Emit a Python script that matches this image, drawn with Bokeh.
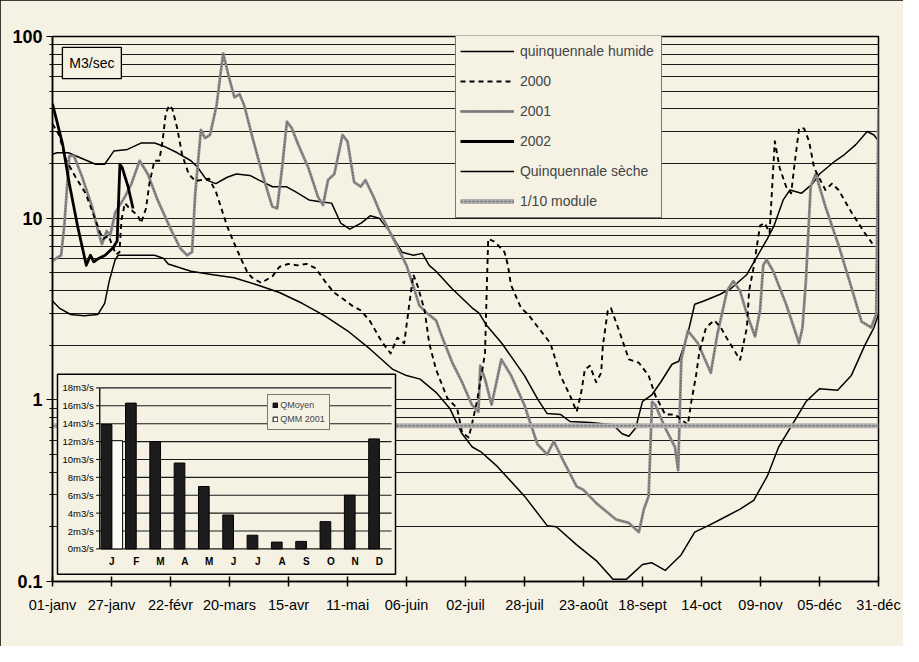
from bokeh.plotting import figure
from bokeh.models import (Range1d, LinearScale, FixedTicker, CustomJSTickFormatter,
                          Legend, LegendItem, ColumnDataSource)
from bokeh.embed import file_html
from bokeh.resources import INLINE
from bokeh.core.properties import value

# ---------------- data ----------------
TICK_DAYS = [0, 26, 52, 78, 104, 130, 156, 182, 208, 234, 260, 286, 312, 338, 364]
TICK_LABELS = ["01-janv", "27-janv", "22-févr", "20-mars", "15-avr", "11-mai", "06-juin",
               "02-juil", "28-juil", "23-août", "18-sept", "14-oct", "09-nov", "05-déc", "31-déc"]

HUMIDE = [(0, 22.5), (2, 22.9), (7, 22.9), (19, 19.8), (23, 19.8), (27, 23.4), (33, 23.9),
          (39, 25.9), (45, 25.9), (49, 24.9), (55, 22.9), (61, 20.7), (64, 19.0), (68, 16.2),
          (72, 15.5), (77, 16.8), (81, 17.5), (87, 17.2), (91, 16.2), (97, 14.9), (103, 14.9),
          (107, 14.0), (113, 12.6), (118, 12.3), (123, 12.1), (127, 9.4), (131, 8.7), (136, 9.4),
          (140, 10.3), (144, 10.0), (149, 8.3), (154, 6.5), (159, 6.25), (163, 6.4), (166, 5.5),
          (169, 5.1), (176, 4.1), (185, 3.2), (188, 3.0), (191, 2.6), (198, 2.05), (208, 1.36),
          (214, 1.0), (218, 0.84), (224, 0.83), (228, 0.76), (237, 0.75), (247, 0.73), (251, 0.65),
          (254, 0.63), (257, 0.70), (260, 0.98), (264, 1.06), (268, 1.25), (273, 1.57), (276, 1.63),
          (280, 2.32), (283, 3.36), (287, 3.5), (294, 3.8), (299, 4.1), (306, 4.9), (310, 6.0),
          (315, 7.7), (318, 9.1), (322, 12.6), (325, 14.3), (330, 13.7), (335, 15.5), (338, 17.5),
          (345, 20.7), (349, 22.4), (354, 25.4), (359, 30.0), (362, 28.7), (364, 26.6)]

SECHE = [(0, 3.5), (3, 3.2), (8, 2.95), (14, 2.9), (20, 2.95), (23, 3.4), (25, 4.5), (27.6, 5.9),
         (29, 6.25), (39, 6.25), (45, 6.25), (49, 6.0), (51, 5.6), (61, 5.1), (70, 4.9), (80, 4.7),
         (90, 4.3), (100, 3.9), (110, 3.4), (120, 2.9), (130, 2.4), (140, 1.9), (150, 1.47),
         (156, 1.36), (162, 1.30), (169, 1.10), (175, 0.90), (180.5, 0.65), (185, 0.55),
         (189, 0.515), (196, 0.43), (208, 0.295), (218, 0.203), (222, 0.20), (231, 0.159),
         (240, 0.129), (247, 0.103), (253, 0.103), (260, 0.124), (264, 0.127), (270, 0.115),
         (277, 0.14), (283, 0.187), (289, 0.203), (294.5, 0.22), (303, 0.25), (309, 0.28),
         (315, 0.38), (320, 0.55), (326, 0.73), (332, 0.975), (338, 1.15), (346, 1.13),
         (352, 1.36), (358, 2.0), (362, 2.5), (364, 2.97)]

Y2000 = [(0, 33), (2.9, 28.7), (5.9, 21), (10.2, 16.8), (14.6, 13.7), (18.9, 9.8), (21, 8.3),
         (22.5, 7.7), (24.7, 8.0), (26.5, 7.0), (28, 6.3), (29.5, 6.5), (30.4, 9.8), (31.9, 12.1),
         (34, 11.3), (37.7, 10.3), (39, 9.4), (41.2, 11.3), (42.7, 15.5), (44.9, 20.7), (47, 20.7),
         (48.5, 26.5), (49.9, 37.6), (51.4, 41.8), (52.8, 40), (55, 31.2), (57.1, 22.4), (60, 17.5),
         (63, 16), (69, 16.5), (72, 14), (77, 9), (80, 7.3), (83, 6), (86, 5), (88, 4.7), (92, 4.4),
         (97, 4.8), (100, 5.4), (104, 5.6), (108, 5.5), (112, 5.6), (116, 5.3), (120, 4.5),
         (124, 3.9), (128, 3.6), (132, 3.3), (136, 3.1), (140, 2.7), (145, 2.1), (149, 1.8),
         (152, 2.2), (155, 2.05), (157, 3.2), (159, 4.9), (161, 4.2), (164, 3.1), (166, 2.05),
         (169, 1.47), (174, 1.02), (178.3, 0.90), (180.5, 0.66), (183.4, 0.62), (184.8, 0.73),
         (187, 0.975), (189, 1.36), (190.6, 1.81), (191.3, 3.8), (192, 7.7), (195, 7.4),
         (199.2, 6.5), (200.7, 5.5), (202, 4.3), (206.5, 3.2), (209.4, 2.97), (219.4, 2.05),
         (223.8, 1.36), (228, 1.06), (231, 0.86), (233, 1.10), (234.6, 1.47), (236.8, 1.54),
         (239.6, 1.25), (241.8, 1.41), (242.5, 1.97), (244.7, 3.1), (246.1, 3.2), (249.7, 2.4),
         (254, 1.67), (258.4, 1.6), (262.7, 1.36), (265.6, 1.06), (270, 0.83), (274.3, 0.83),
         (280, 0.73), (281.5, 0.975), (283.6, 1.36), (285.1, 1.85), (288, 2.5), (291.6, 2.74),
         (294.5, 2.5), (297, 2.2), (303, 1.66), (306, 2.5), (307, 4.0), (308.9, 5.3), (311.8, 9.1),
         (313.9, 9.4), (316, 8.3), (318.3, 26.5), (320.4, 19), (323.3, 14.9), (325.5, 13.7),
         (327, 19.8), (329, 31.2), (331.2, 31.2), (333.4, 26.5), (335.6, 19), (337.7, 16.8),
         (340.6, 14.3), (343.5, 15.5), (346.4, 14.3), (352.2, 10.7), (357.9, 8.3), (360.8, 7.4),
         (362, 7.0)]

Y2001 = [(0, 5.8), (1.6, 6.0), (3.8, 6.25), (5.2, 9.1), (7.4, 22.0), (9.5, 22.0), (13.1, 16.8),
         (17.4, 11.6), (20.3, 8.3), (21.8, 7.2), (23.9, 8.5), (25.4, 8.0), (27.6, 10.7),
         (31.9, 13.1), (34.8, 15.5), (38.4, 20.7), (42, 17.5), (46.3, 12.6), (52.1, 8.7),
         (56.4, 6.8), (59.3, 6.25), (61.5, 6.5), (62.9, 13.7), (65.4, 30.6), (67.2, 27.6),
         (69.4, 28.7), (72.3, 41.7), (75.2, 80.7), (78, 58), (80.2, 46.2), (82.4, 48.2),
         (84.5, 41.7), (88.2, 27.6), (92.5, 17.5), (96.8, 11.6), (99, 11.3), (101.2, 19),
         (103.3, 34), (105.5, 31.2), (108.3, 25.4), (112.7, 19), (117, 13.1), (119.2, 11.8),
         (121.4, 16.2), (124.2, 17.5), (127.8, 28.7), (130, 26.5), (132.9, 15.8), (135.8, 14.9),
         (137.9, 16.2), (141.5, 13.1), (144.4, 10.7), (150.2, 7.7), (156, 5.5), (158.8, 4.3),
         (161.7, 3.3), (164.6, 3.03), (169, 2.74), (171.8, 2.2), (176.2, 1.6), (180.5, 1.25),
         (184.8, 0.94), (187.7, 0.86), (188.5, 1.54), (190.6, 1.30), (193.5, 0.94), (197.8, 1.67),
         (202.1, 1.36), (207.9, 0.94), (213.7, 0.57), (218, 0.50), (220.9, 0.59), (225.2, 0.46),
         (231, 0.333), (233.9, 0.32), (239.6, 0.27), (248.2, 0.22), (254, 0.21), (258.4, 0.187),
         (260.6, 0.25), (262.7, 0.295), (264.2, 0.975), (265.6, 0.94), (270, 0.70), (274.3, 0.55),
         (275.7, 0.41), (276.4, 0.83), (277.1, 1.67), (280, 2.4), (284.4, 2.05), (290.1, 1.41),
         (293, 2.3), (297.3, 4.0), (300, 4.5), (303, 3.97), (306, 2.97), (309.6, 2.23),
         (311.8, 3.1), (313.2, 5.5), (314.7, 5.9), (317.6, 5.1), (323.3, 3.36), (329, 2.05),
         (330.5, 2.5), (332, 4.5), (334.1, 14.9), (336.3, 17.5), (340.6, 11.6), (346.4, 7.1),
         (352.2, 4.1), (356.5, 2.7), (360.8, 2.5), (363, 2.97), (364, 41.7)]

Y2002 = [(0, 42.6), (4.5, 25.4), (7.4, 15.5), (11, 9.1), (13.9, 6.25), (14.9, 5.5), (16.7, 6.25),
         (18.2, 5.75), (20.3, 6.0), (23.2, 6.25), (26.8, 6.9), (28.5, 7.5), (29.7, 19.8),
         (30.7, 19), (33.3, 14.9), (35.5, 11.3)]

MODULE_10 = 0.72

MONTHS = ["J", "F", "M", "A", "M", "J", "J", "A", "S", "O", "N", "D"]
QMOYEN = [13.9, 16.3, 12.0, 9.6, 6.98, 3.8, 1.53, 0.76, 0.84, 3.05, 6.0, 12.3]
QMM_2001 = [12.1, None, None, None, None, None, None, None, None, None, None, None]
INSET_TICKS = [0, 2, 4, 6, 8, 10, 12, 14, 16, 18]

# ---------------- layout (reference pixels scaled into 903x646) ----------------
BG = "#f5f2e4"
FONT = "Liberation Sans"
W, H = 903, 646
SX, SY = W / 919.0, H / 662.0
LEFT, RIGHT = round(53 * SX), round(894 * SX)
TOP, BOTTOM = round(37 * SY), round(595 * SY)
FRAME_W, FRAME_H = RIGHT - LEFT, BOTTOM - TOP


def fx(px):   # reference page x -> frame px
    return px * SX - LEFT


def fy(py):   # reference page y -> frame px from bottom
    return BOTTOM - py * SY


INSET_L, INSET_R, INSET_B, INSET_T = fx(101), fx(398), fy(562), fy(397)


def xy(pairs):
    return [a for a, b in pairs], [b for a, b in pairs]


p = figure(frame_width=FRAME_W, frame_height=FRAME_H,
           x_range=Range1d(0, 364), y_range=Range1d(0.1, 100), y_axis_type="log",
           output_backend="svg", toolbar_location=None,
           min_border_left=LEFT, min_border_right=W - RIGHT,
           min_border_top=TOP, min_border_bottom=H - BOTTOM,
           background_fill_color=BG, border_fill_color=BG)
p.styles = {"outline": "2px solid black", "outline-offset": "-2px"}

sx = 12.0 / (INSET_R - INSET_L)
sy = 18.0 / (INSET_T - INSET_B)
p.extra_x_ranges = {"px": Range1d(0, FRAME_W),
                    "ix": Range1d(-INSET_L * sx, 12 + (FRAME_W - INSET_R) * sx)}
p.extra_y_ranges = {"px": Range1d(0, FRAME_H),
                    "iy": Range1d(-INSET_B * sy, 18 + (FRAME_H - INSET_T) * sy)}
p.extra_x_scales = {"px": LinearScale(), "ix": LinearScale()}
p.extra_y_scales = {"px": LinearScale(), "iy": LinearScale()}

# axes
p.xaxis.ticker = FixedTicker(ticks=TICK_DAYS)
p.xaxis.major_label_overrides = dict(zip(TICK_DAYS, TICK_LABELS))
p.xaxis.major_tick_in = 5
p.xaxis.major_tick_out = 5
p.xaxis.minor_tick_line_color = None
p.xaxis.major_label_text_font = FONT
p.xaxis.major_label_text_font_size = "14.5px"
p.xaxis.major_label_text_color = "black"
p.xaxis.major_label_standoff = 10
p.xaxis.axis_line_width = 1.5
p.xaxis.major_tick_line_width = 1.5

minor = [m * 10.0 ** e for e in (-1, 0, 1) for m in range(2, 10)]
p.yaxis.ticker = FixedTicker(ticks=[0.1, 1, 10, 100], minor_ticks=minor)
p.yaxis.formatter = CustomJSTickFormatter(code="return tick.toString();")
p.yaxis.major_tick_in = 0
p.yaxis.major_tick_out = 6
p.yaxis.minor_tick_in = 0
p.yaxis.minor_tick_out = 3
p.yaxis.major_label_text_font = FONT
p.yaxis.major_label_text_font_size = "18px"
p.yaxis.major_label_text_font_style = "bold"
p.yaxis.major_label_text_color = "black"
p.yaxis.major_label_standoff = 4
p.yaxis.axis_line_width = 1.5

p.xgrid.visible = False
p.ygrid.grid_line_color = "#1a1a1a"
p.ygrid.grid_line_width = 1.2
p.ygrid.minor_grid_line_color = "#1a1a1a"
p.ygrid.minor_grid_line_width = 1.1
p.outline_line_color = "black"
p.outline_line_width = 1.5

# main series
x, y = xy(HUMIDE)
r_hum = p.line(x, y, line_color="black", line_width=1.5, line_join="round")
x, y = xy(SECHE)
r_sec = p.line(x, y, line_color="black", line_width=1.5, line_join="round")
x, y = xy(Y2001)
r_01a = p.line(x, y, line_color="#8c8c8c", line_width=2.8, line_join="round")
r_01b = p.line(x, y, line_color="#505050", line_width=1.0, line_dash="1 2", line_join="round")
x, y = xy(Y2000)
r_00 = p.line(x, y, line_color="black", line_width=1.9, line_dash="5 4", line_join="round")
x, y = xy(Y2002)
r_02 = p.line(x, y, line_color="black", line_width=2.8, line_join="round")
r_moda = p.line([0, 364], [MODULE_10, MODULE_10], line_color="#b0b0b0", line_width=5.0)
r_modb = p.line([0, 364], [MODULE_10, MODULE_10], line_color="#6a6a6a", line_width=1.5,
                line_dash="2 2")

# "M3/sec" box
p.quad(left=[fx(63)], right=[fx(123)], bottom=[fy(80)], top=[fy(48)],
       x_range_name="px", y_range_name="px",
       fill_color=BG, line_color="black", line_width=1.3)
p.text(x=[fx(93)], y=[fy(64)], text=["M3/sec"], x_range_name="px", y_range_name="px",
       text_font=value(FONT), text_font_size="14px", text_align="center",
       text_baseline="middle", text_color="black")

# ---------------- inset bar chart ----------------
p.quad(left=[fx(58)], right=[fx(402)], bottom=[fy(588)], top=[fy(383)],
       x_range_name="px", y_range_name="px",
       fill_color=BG, line_color="black", line_width=1.5)
n = len(INSET_TICKS)
p.segment(x0=[0] * n, x1=[12] * n, y0=INSET_TICKS, y1=INSET_TICKS,
          x_range_name="ix", y_range_name="iy", line_color="#1a1a1a", line_width=1.1)
p.segment(x0=[-0.15] * n, x1=[0] * n, y0=INSET_TICKS, y1=INSET_TICKS,
          x_range_name="ix", y_range_name="iy", line_color="black", line_width=1)
p.segment(x0=[0], x1=[0], y0=[0], y1=[18], x_range_name="ix", y_range_name="iy",
          line_color="black", line_width=1.3)
p.text(x=[-0.25] * n, y=INSET_TICKS, text=[f"{v}m3/s" for v in INSET_TICKS],
       x_range_name="ix", y_range_name="iy", text_font=value(FONT), text_font_size="9.5px",
       text_align="right", text_baseline="middle", text_color="black")
centers = [i + 0.5 for i in range(12)]
p.text(x=centers, y=[-13 * SY * sy] * 12, text=MONTHS, x_range_name="ix", y_range_name="iy",
       text_font=value(FONT), text_font_size="10px", text_font_style="bold",
       text_align="center", text_baseline="middle", text_color="black")
src_d = ColumnDataSource(dict(x=[c - 0.22 for c in centers], top=QMOYEN))
r_dark = p.vbar(x="x", top="top", bottom=0, width=0.44, source=src_d, x_range_name="ix",
                y_range_name="iy", fill_color="#1c1c1c", line_color="black", line_width=1)
w_idx = [i for i, v in enumerate(QMM_2001) if v is not None]
src_w = ColumnDataSource(dict(x=[centers[i] + 0.22 for i in w_idx],
                              top=[QMM_2001[i] for i in w_idx]))
r_white = p.vbar(x="x", top="top", bottom=0, width=0.44, source=src_w, x_range_name="ix",
                 y_range_name="iy", fill_color="#fcfbf6", line_color="black", line_width=1)

inset_legend = Legend(items=[LegendItem(label="QMoyen", renderers=[r_dark]),
                             LegendItem(label="QMM 2001", renderers=[r_white])],
                      location=(fx(272), fy(441)), label_text_font=FONT,
                      label_text_font_size="9px",
                      glyph_width=6, glyph_height=6, label_height=12, label_standoff=2,
                      spacing=2, padding=4, margin=0, border_line_color="black",
                      border_line_width=1.2, background_fill_color=BG, background_fill_alpha=1)
p.add_layout(inset_legend)

LEG_H = 6 * 24 + 5 * 6 + 2 * 4
main_legend = Legend(items=[LegendItem(label="quinquennale humide", renderers=[r_hum]),
                            LegendItem(label="2000", renderers=[r_00]),
                            LegendItem(label="2001", renderers=[r_01a, r_01b]),
                            LegendItem(label="2002", renderers=[r_02]),
                            LegendItem(label="Quinquennale sèche", renderers=[r_sec]),
                            LegendItem(label="1/10 module", renderers=[r_moda, r_modb])],
                     location=(fx(463), FRAME_H - LEG_H), label_text_font=FONT,
                     label_text_font_size="14px", label_width=137,
                     glyph_width=54, glyph_height=24, label_height=24, label_standoff=6,
                     spacing=6, padding=4, margin=0, border_line_color="black",
                     border_line_width=1.5, background_fill_color=BG, background_fill_alpha=1)
p.add_layout(main_legend)

open("out.html", "w").write(file_html(p, INLINE))
